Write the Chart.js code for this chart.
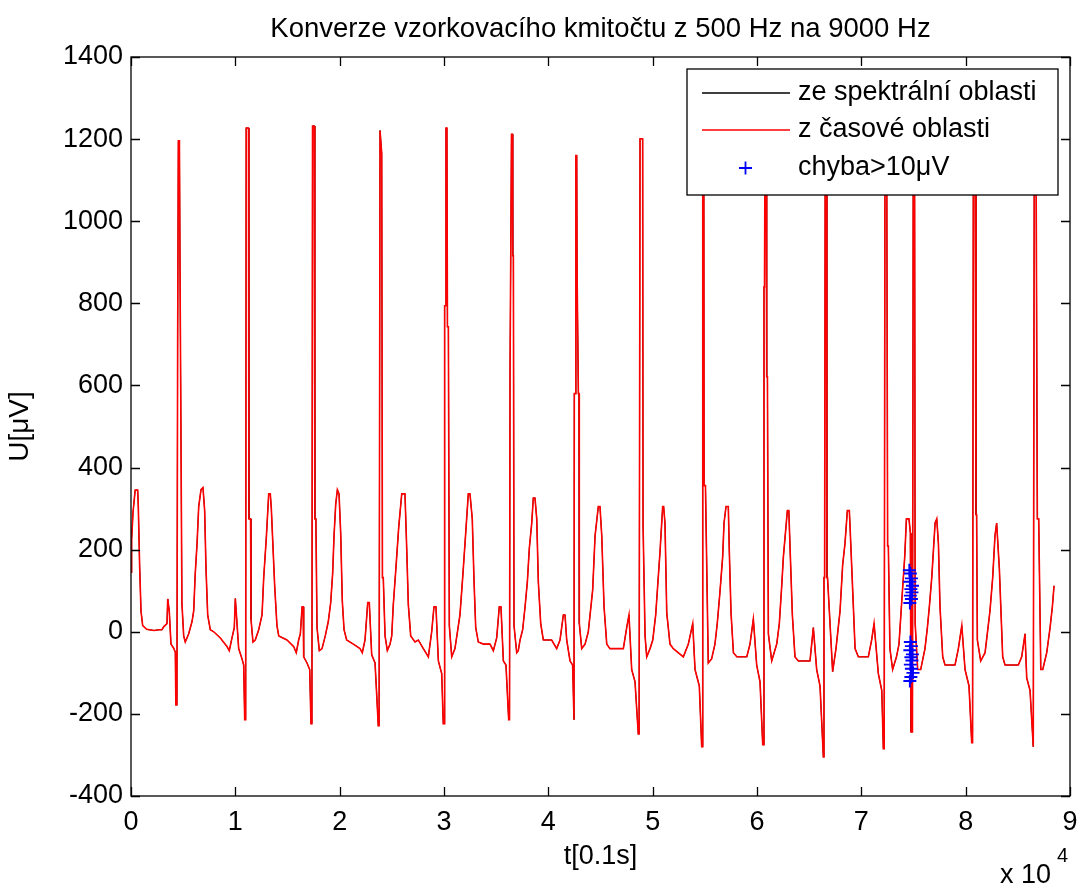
<!DOCTYPE html>
<html>
<head>
<meta charset="utf-8">
<title>Konverze vzorkovacího kmitočtu</title>
<script src="https://cdn.jsdelivr.net/npm/chart.js@4/dist/chart.umd.min.js"></script>
<style>
  html, body { margin: 0; padding: 0; background: #fff; }
</style>
</head>
<body>
<canvas id="ecgChart" width="1083" height="889"></canvas>
<script>
// osa x: vzorky (zobrazeno v násobcích 10^4)
const xTicks = [0, 10000, 20000, 30000, 40000, 50000, 60000, 70000, 80000, 90000];
const xTickLabels = ['0', '1', '2', '3', '4', '5', '6', '7', '8', '9'];
const yTicks = [-400, -200, 0, 200, 400, 600, 800, 1000, 1200, 1400];

const seriesNames = ['ze spektrální oblasti', 'z časové oblasti', 'chyba>10\u03bcV'];

// EKG signál [t, U]
const signal = [
  [0,145],[60,225],[190,290],[400,345],[640,345],[700,305],[830,158],[960,50],[1120,15],[1500,6],[2200,3],[2700,5],
  [2970,5],[3130,12],[3450,20],[3520,80],[3670,50],[3830,-30],[4090,-40],[4250,-50],[4300,-178],[4400,-178],[4470,700],[4540,1196],[4640,1196],[4700,880],[4790,880],[4880,70],[5050,-10],[5200,-25],[5530,-5],[5850,25],[6010,51],[6160,143],[6330,214],[6490,305],[6710,346],[6900,351],[7060,295],[7190,153],[7350,41],[7600,5],[7930,0],[8560,-15],[9200,-36],[9420,-46],[9680,-15],[9900,10],
  [10000,81],[10160,20],[10320,-41],[10640,-66],[10800,-81],[10900,-214],[10990,-214],[11040,1227],[11260,1227],[11300,275],[11460,275],[11500,31],[11690,-25],[11910,-20],[12240,5],[12560,41],[12720,132],[12970,229],[13200,336],[13350,336],[13450,300],[13580,224],[13770,112],[13990,15],[14160,-10],[14950,-20],[15590,-36],[15840,-51],[16070,-20],[16230,-5],[16400,61],[16500,61],[16550,-61],[16870,-76],[17130,-92],
  [17250,-224],[17340,-224],[17400,1232],[17560,1232],[17620,275],[17720,275],[17830,10],[18050,-46],[18310,-41],[18620,-10],[18910,25],[19140,71],[19330,143],[19460,234],[19620,310],[19780,346],[19940,336],[20100,239],[20250,76],[20420,5],[20670,-20],[21310,-30],[21950,-41],[22170,-51],[22430,-20],[22690,71],[22840,71],[23070,-56],[23390,-76],[23550,-153],[23700,-229],
  [23780,-229],[23870,1221],[24030,1165],[24100,132],[24180,132],[24350,-10],[24570,-46],[24830,-30],[24990,-10],[25140,66],[25400,158],[25660,255],[25950,336],[26260,336],[26430,199],[26580,66],[26810,-10],[27220,-25],[27540,-20],[28020,-41],[28500,-61],[28820,0],[29040,61],[29230,61],[29460,-71],[29780,-102],[29930,-224],
  [30010,-224],[30060,794],[30140,794],[30190,1227],[30280,1227],[30330,743],[30420,743],[30510,15],[30740,-61],[31050,-41],[31530,41],[31790,132],[32010,214],[32330,336],[32490,336],[32710,275],[32880,122],[33040,10],[33290,-25],[33770,-30],[34410,-30],[34730,-46],[35050,-15],[35300,61],[35460,61],[35690,-71],[35940,-81],[36200,-214],
  [36280,-214],[36330,636],[36420,636],[36470,1212],[36560,1212],[36590,916],[36650,916],[36710,15],[36970,-51],[37120,-46],[37290,-20],[37540,5],[37770,61],[37990,122],[38180,204],[38410,265],[38560,326],[38720,326],[38890,275],[39040,122],[39270,20],[39520,-20],[40320,-20],[40800,-41],[41120,-20],[41440,41],[41600,41],[41760,-20],[42080,-71],[42330,-81],[42460,-214],
  [42490,580],[42600,580],[42640,1160],[42720,1160],[42760,865],[42840,865],[42880,580],[42940,580],[42970,20],[43200,-41],[43520,-30],[43830,0],[44250,102],[44480,234],[44790,305],[44950,305],[45120,234],[45340,61],[45600,-30],[45910,-41],[47190,-41],[47510,10],[47730,41],[47990,-92],[48310,-122],[48620,-249],
  [48700,-249],[48790,1201],[49040,1201],[49080,260],[49150,260],[49270,-10],[49430,-61],[49750,-41],[50010,-20],[50290,41],[50480,112],[50700,193],[50960,305],[51050,305],[51180,265],[51350,46],[51660,-30],[51980,-41],[52940,-61],[53420,-30],[53840,20],[54060,-92],[54470,-132],[54700,-280],
  [54760,-280],[54800,1215],[54900,1215],[54930,356],[55060,356],[55330,-76],[55650,-66],[55970,-30],[56190,20],[56450,97],[56710,183],[56840,265],[57030,305],[57250,305],[57350,193],[57510,46],[57740,-51],[58060,-61],[59020,-61],[59330,-30],[59650,31],[59970,-81],[60290,-122],[60550,-275],
  [60620,-275],[60670,840],[60720,840],[60770,1205],[60870,1205],[60930,621],[61000,621],[61090,-5],[61410,-71],[61890,-30],[62140,20],[62370,112],[62530,183],[62910,295],[63050,295],[63170,204],[63390,41],[63640,-61],[63960,-71],[65080,-71],[65400,10],[65720,-92],[66040,-132],[66360,-305],
  [66420,132],[66480,132],[66540,1200],[66640,1200],[66700,132],[66760,132],[67250,-97],[67570,-41],[67960,51],[68210,163],[68430,214],[68660,295],[68850,295],[68920,255],[69170,102],[69400,-41],[69710,-61],[70670,-61],[70990,-20],[71220,20],[71630,-102],[71960,-143],[72110,-285],
  [72190,-285],[72270,1210],[72430,1210],[72520,209],[72590,209],[72740,-41],[73000,-92],[73370,-61],[73610,-30],[73840,61],[74160,183],[74320,275],[74570,275],[74700,240],
  [74760,-244],[74900,-244],[74980,1200],[75100,1200],[75160,20],[75400,-92],[75690,-92],[76100,-41],[76330,10],[76520,61],[76750,132],[77070,265],[77230,275],[77390,214],[77540,61],[77800,-61],[78020,-81],[78980,-81],[79300,-41],[79630,15],[79940,-92],[80320,-132],[80580,-270],
  [80660,-270],[80740,1195],[80900,1195],[80990,285],[81050,285],[81120,-20],[81440,-71],[81860,-51],[82330,51],[82590,132],[82810,234],[82970,265],[83230,153],[83550,-61],[83770,-81],[85050,-81],[85370,-61],[85690,-5],[85850,-112],[86170,-143],[86480,-280],
  [86540,-280],[86580,1210],[86740,1210],[86870,275],[87000,275],[87200,-92],[87390,-92],[87770,-51],[88090,10],[88310,61],[88470,112]
];

// body s chybou > 10 uV
const errT = [74600, 74700, 74800, 74650, 74900, 74750, 74850, 74700, 74800, 74650,
              74700, 74800, 74650, 74900, 74750, 74850, 74700, 74800, 74950, 74750, 74650];
const errU = [150, 142, 130, 122, 112, 104, 96, 88, 80, 70,
              -25, -35, -45, -55, -62, -70, -80, -90, -100, -110, -120];

const FONT = '"Liberation Sans", Arial, Helvetica, sans-serif';
const FS = 27;

const points = signal.map(p => ({ x: p[0], y: p[1] }));
const errPoints = errT.map((t, i) => ({ x: t, y: errU[i] }));

// rámeček grafu, ticky dovnitř, nadpis a "x 10^4"
const frameTicks = {
  id: 'frameTicks',
  afterDraw(chart) {
    const { ctx, chartArea: a, scales: { x, y } } = chart;
    ctx.save();
    ctx.strokeStyle = '#000';
    ctx.lineWidth = 1.3;
    ctx.strokeRect(a.left, a.top, a.right - a.left, a.bottom - a.top);
    ctx.beginPath();
    xTicks.forEach(v => {
      const px = Math.round(x.getPixelForValue(v)) + 0.5;
      ctx.moveTo(px, a.bottom); ctx.lineTo(px, a.bottom - 9);
      ctx.moveTo(px, a.top); ctx.lineTo(px, a.top + 9);
    });
    yTicks.forEach(v => {
      const py = Math.round(y.getPixelForValue(v)) + 0.5;
      ctx.moveTo(a.left, py); ctx.lineTo(a.left + 9, py);
      ctx.moveTo(a.right, py); ctx.lineTo(a.right - 9, py);
    });
    ctx.stroke();

    ctx.fillStyle = '#000';
    ctx.font = '27.5px ' + FONT;
    ctx.textAlign = 'center';
    ctx.textBaseline = 'alphabetic';
    ctx.fillText('Konverze vzorkovacího kmitočtu z 500 Hz na 9000 Hz', (a.left + a.right) / 2, 37);

    ctx.font = FS + 'px ' + FONT;
    ctx.textAlign = 'right';
    ctx.fillText('x 10', a.right - 19, 883);
    ctx.font = '20px ' + FONT;
    ctx.textAlign = 'left';
    ctx.fillText('4', a.right - 13, 862);
    ctx.restore();
  }
};

// legenda v pravém horním rohu uvnitř os
const boxLegend = {
  id: 'boxLegend',
  afterDatasetsDraw(chart) {
    const { ctx } = chart;
    const left = 687, top = 69, right = 1058, bottom = 195;
    ctx.save();
    ctx.fillStyle = '#fff';
    ctx.fillRect(left, top, right - left, bottom - top);
    ctx.strokeStyle = '#000';
    ctx.lineWidth = 1.3;
    ctx.strokeRect(left, top, right - left, bottom - top);
    const rows = [93, 130, 168];
    chart.data.datasets.forEach((ds, i) => {
      const ry = rows[i];
      ctx.strokeStyle = ds.borderColor;
      ctx.lineWidth = ds.showLine === false ? 1.8 : 1.3;
      ctx.beginPath();
      if (ds.showLine === false) {
        ctx.moveTo(739, ry); ctx.lineTo(752, ry);
        ctx.moveTo(745.5, ry - 6.5); ctx.lineTo(745.5, ry + 6.5);
      } else {
        ctx.moveTo(702, ry); ctx.lineTo(790, ry);
      }
      ctx.stroke();
      ctx.fillStyle = '#000';
      ctx.font = FS + 'px ' + FONT;
      ctx.textAlign = 'left';
      ctx.textBaseline = 'middle';
      ctx.fillText(ds.label, 798, ry);
    });
    ctx.restore();
  }
};

new Chart(document.getElementById('ecgChart'), {
  type: 'line',
  data: {
    datasets: [
      {
        label: seriesNames[0],
        data: points,
        borderColor: '#000000',
        borderWidth: 1,
        pointRadius: 0,
        tension: 0,
        order: 2
      },
      {
        label: seriesNames[1],
        data: points,
        borderColor: '#ff0000',
        borderWidth: 1.6,
        pointRadius: 0,
        tension: 0,
        order: 1
      },
      {
        label: seriesNames[2],
        data: errPoints,
        showLine: false,
        borderColor: '#0000ff',
        backgroundColor: '#0000ff',
        pointStyle: 'cross',
        pointRadius: 6.5,
        pointBorderWidth: 1.9,
        order: 0
      }
    ]
  },
  options: {
    responsive: false,
    animation: false,
    devicePixelRatio: 1,
    events: [],
    layout: { padding: { left: 0, top: 57, right: 13, bottom: 0 } },
    plugins: {
      legend: { display: false },
      title: { display: false },
      tooltip: { enabled: false }
    },
    scales: {
      x: {
        type: 'linear',
        min: 0,
        max: 90000,
        afterBuildTicks: s => { s.ticks = xTicks.map(v => ({ value: v })); },
        afterFit: s => { s.height = 93; s.paddingLeft = 0; s.paddingRight = 0; },
        grid: { display: false, drawTicks: false },
        border: { display: false },
        ticks: {
          autoSkip: false,
          maxRotation: 0,
          padding: 10,
          color: '#000',
          font: { family: FONT, size: FS },
          callback: v => xTickLabels[xTicks.indexOf(v)]
        },
        title: {
          display: true,
          text: 't[0.1s]',
          color: '#000',
          font: { family: FONT, size: FS },
          padding: { bottom: 16 }
        }
      },
      y: {
        min: -400,
        max: 1400,
        afterBuildTicks: s => { s.ticks = yTicks.map(v => ({ value: v })); },
        afterFit: s => { s.width = 131; s.paddingTop = 0; s.paddingBottom = 0; },
        grid: { display: false, drawTicks: false },
        border: { display: false },
        ticks: {
          autoSkip: false,
          padding: 8,
          color: '#000',
          font: { family: FONT, size: FS },
          callback: v => String(v)
        },
        title: {
          display: true,
          text: 'U[\u03bcV]',
          color: '#000',
          font: { family: FONT, size: 28 },
          padding: { top: 3 }
        }
      }
    }
  },
  plugins: [boxLegend, frameTicks]
});
</script>
</body>
</html>
